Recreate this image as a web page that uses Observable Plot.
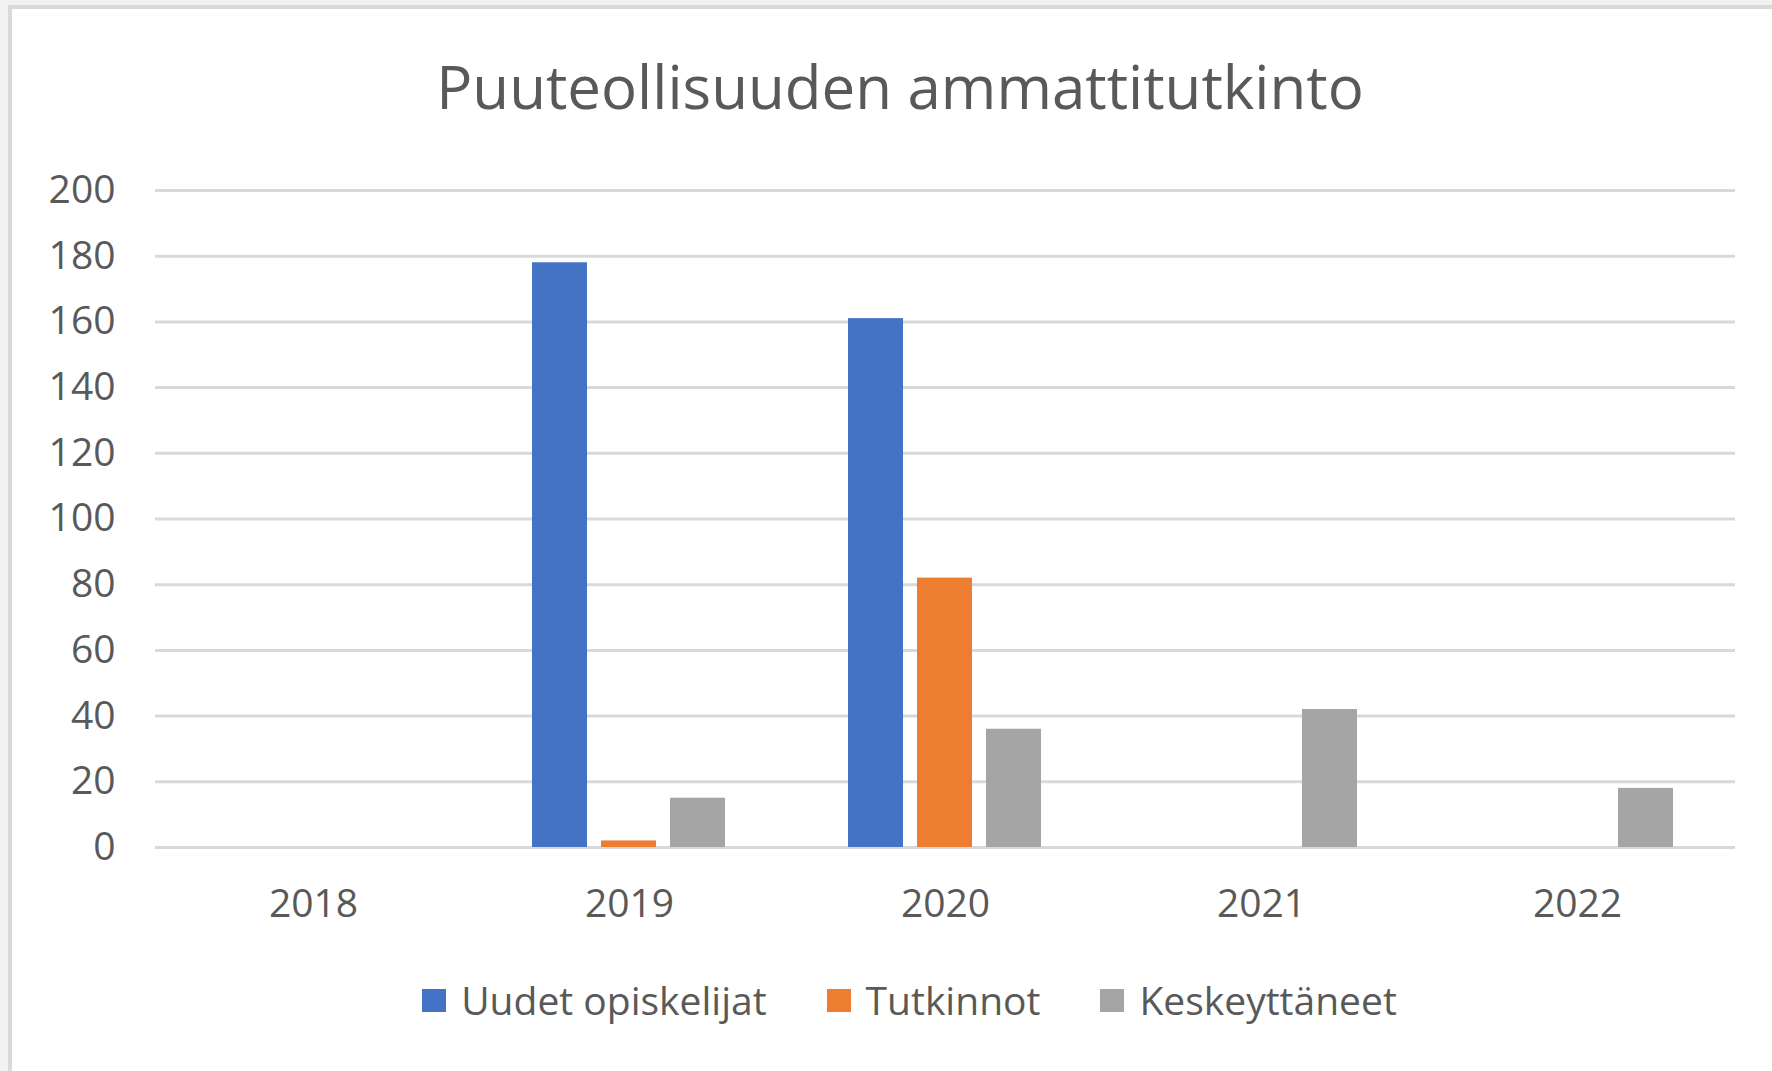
<!DOCTYPE html>
<html>
<head>
<meta charset="utf-8">
<script src="https://cdn.jsdelivr.net/npm/d3@7"></script>
<script src="https://cdn.jsdelivr.net/npm/@observablehq/plot@0.6"></script>
<style>
  html, body { margin: 0; padding: 0; }
  body { width: 1772px; height: 1071px; overflow: hidden; background: #f2f2f2; position: relative; font-family: "Open Sans", sans-serif; color: #595959; }
  #panel { position: absolute; left: 8px; top: 5px; width: 1800px; height: 1100px; background: #fff; border-left: 4px solid #d9d9d9; border-top: 4px solid #d9d9d9; }
  #title { position: absolute; left: 0; top: 56px; width: 1800px; text-align: center; font-size: 60px; line-height: 60px; color: #595959; }
  #chart { position: absolute; left: 0; top: 150px; }
  #legend { position: absolute; left: 0; top: 980px; width: 1819px; display: flex; justify-content: center; align-items: center; font-size: 39px; line-height: 40px; color: #595959; }
  .item { display: flex; align-items: center; margin: 0 30px; }
  .sw { width: 24px; height: 23px; margin-right: 15px; }
</style>
</head>
<body>
<div id="panel"></div>
<div id="title">Puuteollisuuden ammattitutkinto</div>
<div id="chart"></div>
<div id="legend"></div>
<script>
const years = ["2018", "2019", "2020", "2021", "2022"];
const seriesNames = ["Uudet opiskelijat", "Tutkinnot", "Keskeyttäneet"];
const seriesColors = ["#4472C4", "#ED7D31", "#A5A5A5"];
const uudetOpiskelijat = [0, 178, 161, 0, 0];
const tutkinnot = [0, 2, 82, 0, 0];
const keskeyttaneet = [0, 15, 36, 42, 18];
const yTicks = [0, 20, 40, 60, 80, 100, 120, 140, 160, 180, 200];

const seriesValues = [uudetOpiskelijat, tutkinnot, keskeyttaneet];
const data = [];
years.forEach((yr, i) => {
  seriesNames.forEach((s, j) => {
    data.push({year: yr, series: s, value: seriesValues[j][i]});
  });
});

const chart = Plot.plot({
  width: 1772,
  height: 800,
  marginLeft: 153,
  marginRight: 36,
  marginTop: 40,
  marginBottom: 103,
  style: {fontFamily: "Open Sans, sans-serif", color: "#595959", background: "transparent"},
  fx: {domain: years, padding: 0, label: null},
  x: {domain: seriesNames, paddingInner: 0.2, paddingOuter: 0.86, axis: null},
  y: {domain: [0, 200], axis: null},
  color: {domain: seriesNames, range: seriesColors},
  marks: [
    Plot.ruleY(yTicks, {stroke: "#d9d9d9", strokeWidth: 3}),
    Plot.barY(data, {fx: "year", x: "series", y: "value", fill: "series"}),
    Plot.axisY({ticks: yTicks, tickSize: 0, tickPadding: 40, fontSize: 39, fill: "#595959", label: null}),
    Plot.axisFx({anchor: "bottom", tickSize: 0, tickPadding: 42, fontSize: 39, fill: "#595959", label: null})
  ]
});
document.getElementById("chart").appendChild(chart);

const legend = document.getElementById("legend");
seriesNames.forEach((s, j) => {
  const item = document.createElement("div");
  item.className = "item";
  const sw = document.createElement("div");
  sw.className = "sw";
  sw.style.background = seriesColors[j];
  const lab = document.createElement("span");
  lab.textContent = s;
  item.appendChild(sw);
  item.appendChild(lab);
  legend.appendChild(item);
});
</script>
</body>
</html>
